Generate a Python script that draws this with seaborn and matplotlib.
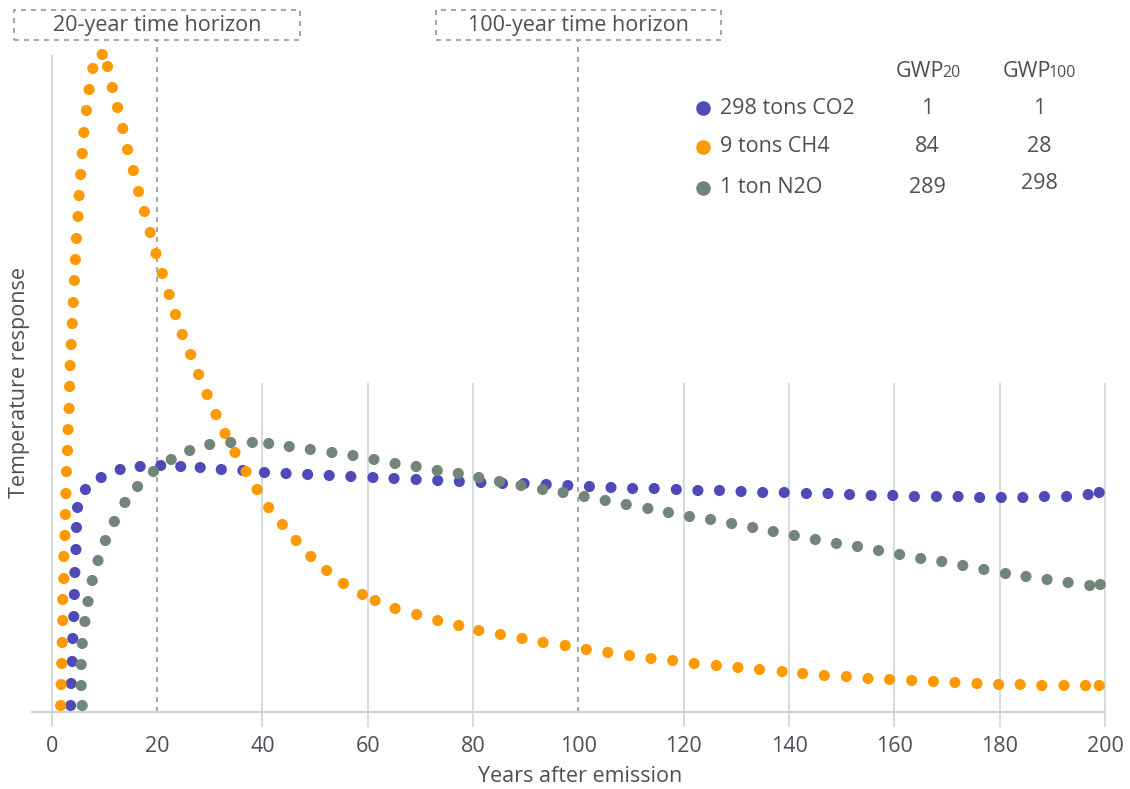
import numpy as np
import pandas as pd
import matplotlib.pyplot as plt
import seaborn as sns
from matplotlib.lines import Line2D
from matplotlib.patches import Rectangle

# temperature response after a pulse emission (arbitrary units)
co2_years = [3.6, 3.7, 3.9, 4.0, 4.2, 4.3, 4.4, 4.6, 4.7, 4.9, 6.4, 9.4, 13.0, 16.8, 20.7,
             24.5, 28.2, 32.2, 36.3, 40.4, 44.5, 48.6, 52.7, 56.8, 61.0, 65.0, 69.2, 73.3,
             77.4, 81.5, 85.6, 89.7, 93.9, 98.0, 102.1, 106.2, 110.3, 114.4, 118.6, 122.7,
             126.8, 130.9, 135.0, 139.1, 143.3, 147.4, 151.5, 155.6, 159.7, 163.8, 168.0,
             172.1, 176.2, 180.3, 184.4, 188.5, 192.7, 196.8, 198.9]
co2_temp = [0.6, 2.8, 5.0, 7.3, 9.5, 11.7, 13.9, 16.2, 18.4, 20.4, 22.2, 23.4, 24.2, 24.5, 24.6,
            24.5, 24.4, 24.2, 24.1, 23.9, 23.8, 23.7, 23.6, 23.5, 23.4, 23.3, 23.2, 23.1,
            23.0, 22.9, 22.8, 22.8, 22.7, 22.6, 22.5, 22.4, 22.3, 22.3, 22.2, 22.1,
            22.1, 22.0, 21.9, 21.9, 21.8, 21.8, 21.7, 21.6, 21.6, 21.5, 21.5,
            21.5, 21.4, 21.4, 21.4, 21.5, 21.5, 21.7, 21.9]

ch4_years = [1.7, 1.8, 1.9, 2.0, 2.1, 2.1, 2.3, 2.3, 2.5, 2.6, 2.7, 2.8, 3.0, 3.1, 3.3, 3.4,
             3.5, 3.7, 3.9, 4.1, 4.3, 4.5, 4.7, 5.0, 5.2, 5.5, 5.8, 6.1, 6.6, 7.1, 7.8, 9.6,
             10.6, 11.5, 12.5, 13.5, 14.4, 15.5, 16.5, 17.6, 18.7, 19.8, 21.0, 22.3, 23.5,
             24.8, 26.4, 27.9, 29.5, 31.2, 32.9, 34.8, 36.9, 39.0, 41.2, 43.8, 46.4, 49.2,
             52.2, 55.4, 59.0, 61.4, 65.2, 69.3, 73.3, 77.3, 81.1, 85.2, 89.3, 93.3, 97.5,
             101.5, 105.6, 109.7, 113.8, 117.9, 122.0, 126.2, 130.3, 134.4, 138.7, 142.6,
             146.7, 150.9, 155.0, 159.1, 163.3, 167.4, 171.5, 175.7, 179.8, 183.9, 188.0,
             192.2, 196.3, 198.9]
ch4_temp = [0.6, 2.7, 4.8, 6.9, 9.1, 11.2, 13.3, 15.5, 17.6, 19.7, 21.8, 24.0, 26.1, 28.2, 30.3,
            32.5, 34.6, 36.7, 38.8, 40.9, 43.1, 45.2, 47.3, 49.5, 51.6, 53.7, 55.8, 57.9,
            60.1, 62.2, 64.3, 65.7, 64.5, 62.4, 60.4, 58.3, 56.2, 54.1, 52.0, 50.0, 47.9,
            45.8, 43.8, 41.7, 39.7, 37.7, 35.7, 33.7, 31.7, 29.7, 27.8, 25.9, 24.0, 22.2,
            20.4, 18.7, 17.1, 15.5, 14.1, 12.8, 11.7, 11.1, 10.3, 9.7, 9.1, 8.6, 8.1, 7.7,
            7.3, 6.9, 6.6, 6.2, 5.9, 5.6, 5.3, 5.1, 4.8, 4.6, 4.4, 4.2, 4.0, 3.8, 3.6, 3.5,
            3.3, 3.2, 3.1, 3.0, 2.9, 2.8, 2.7, 2.7, 2.6, 2.6, 2.6, 2.6]

n2o_years = [5.8, 5.6, 5.6, 5.8, 6.3, 6.9, 7.7, 8.8, 10.2, 11.9, 13.9, 16.3, 19.3, 22.7, 26.2,
             30.0, 34.0, 38.1, 41.2, 45.1, 49.1, 53.2, 57.2, 61.2, 65.2, 69.2, 73.2, 77.2,
             81.1, 85.0, 89.1, 93.2, 97.1, 101.1, 105.1, 109.1, 113.2, 117.1, 121.1, 125.1,
             129.1, 133.1, 137.0, 141.0, 145.0, 149.0, 153.0, 157.0, 161.0, 165.0, 169.0,
             173.0, 177.0, 181.1, 185.0, 189.0, 193.0, 197.1, 199.1]
n2o_temp = [0.6, 2.6, 4.7, 6.8, 9.0, 11.0, 13.1, 15.1, 17.1, 19.0, 20.9, 22.5, 24.0, 25.2, 26.1,
            26.7, 26.9, 26.9, 26.8, 26.5, 26.2, 25.9, 25.6, 25.2, 24.8, 24.5, 24.1, 23.8,
            23.4, 23.0, 22.6, 22.2, 21.9, 21.5, 21.1, 20.7, 20.3, 19.9, 19.5, 19.2,
            18.8, 18.4, 18.0, 17.6, 17.2, 16.8, 16.5, 16.1, 15.7, 15.3, 15.0,
            14.6, 14.2, 13.8, 13.5, 13.2, 12.9, 12.6, 12.7]

gas_labels = ["298 tons CO2", "9 tons CH4", "1 ton N2O"]
gwp20 = ["1", "84", "289"]
gwp100 = ["1", "28", "298"]
horizons = [20, 100]

colors = {"298 tons CO2": "#4f4ab8", "9 tons CH4": "#ff9900", "1 ton N2O": "#718679"}
text_col = "#4b5057"
grid_col = "#cdd5d4"
dash_col = "#8f9c9a"
fs = 15.5

df = pd.concat([
    pd.DataFrame({"year": co2_years, "temp": co2_temp, "gas": gas_labels[0]}),
    pd.DataFrame({"year": ch4_years, "temp": ch4_temp, "gas": gas_labels[1]}),
    pd.DataFrame({"year": n2o_years, "temp": n2o_temp, "gas": gas_labels[2]}),
], ignore_index=True)

sns.set_style("white")
plt.rcParams["font.family"] = ["Open Sans", "DejaVu Sans"]

W, H = 1130, 789
fig = plt.figure(figsize=(W / 100, H / 100), dpi=100)
ax = fig.add_axes([32 / W, 77.5 / H, 1073 / W, 671.5 / H])
ax.set_xlim(-3.74, 200)
ax.set_ylim(0, 67.15)

# grid: full line at 0, shorter ones in the lower part, all running a bit below the axis
ax.vlines([0], -1.55, 65.65, color=grid_col, lw=1.2, zorder=1, clip_on=False)
ax.vlines([40, 60, 80, 120, 140, 160, 180, 200], -1.55, 32.85, color=grid_col, lw=1.2,
          zorder=1, clip_on=False)

# time horizon markers with their dashed boxes
for yr in horizons:
    ax.vlines(yr, 0, 67.15, color=dash_col, lw=1.2, linestyles=(0, (3, 3)), zorder=1,
              clip_on=False)
    ax.add_patch(Rectangle((yr - 27.07, 67.15), 54.14, 3.0, fill=False, ec=dash_col, lw=1.2,
                           ls=(0, (3, 3)), clip_on=False))
    ax.text(yr, 68.6, f"{yr}-year time horizon", ha="center", va="center", fontsize=fs,
            color=text_col, clip_on=False)

sns.scatterplot(data=df, x="year", y="temp", hue="gas", palette=colors, s=64, linewidth=0,
                legend=False, ax=ax, zorder=3)
for c in ax.collections:
    c.set_clip_on(False)

sns.despine(ax=ax, left=True)
ax.spines["bottom"].set_color(grid_col)
ax.spines["bottom"].set_linewidth(1.5)
ax.set_yticks([])
ax.set_xticks(range(0, 201, 20))
ax.tick_params(axis="x", length=0, pad=18, labelsize=fs, labelcolor=text_col)
ax.set_xlabel("Years after emission", fontsize=fs, color=text_col, va="center")
ax.xaxis.set_label_coords((580 - 32) / 1073, (711.5 - 776) / 671.5)
ax.set_ylabel("Temperature response", fontsize=fs, color=text_col, va="center")
ax.yaxis.set_label_coords((20 - 32) / 1073, (711.5 - 383) / 671.5)

# legend table with GWP values
def fx(px):
    return px / W

def fy(py):
    return 1 - py / H

fig.text(fx(944), fy(77.3), "GWP", ha="right", va="baseline", fontsize=fs, color=text_col)
fig.text(fx(942), fy(77.3), "20", ha="left", va="baseline", fontsize=11.5, color=text_col)
fig.text(fx(1051), fy(77.3), "GWP", ha="right", va="baseline", fontsize=fs, color=text_col)
fig.text(fx(1049), fy(77.3), "100", ha="left", va="baseline", fontsize=11.5, color=text_col)

row_y = [108.3, 146.5, 187.5]
for lab, g20, g100, ry in zip(gas_labels, gwp20, gwp100, row_y):
    fig.add_artist(Line2D([fx(703.3)], [fy(ry)], marker="o", markersize=10.5, ls="none",
                          color=colors[lab], markeredgewidth=0))
    fig.text(fx(720), fy(ry), lab, ha="left", va="center", fontsize=fs, color=text_col)
    fig.text(fx(927), fy(ry), g20, ha="center", va="center", fontsize=fs, color=text_col)
    fig.text(fx(1039.5), fy(ry - 4 if g100 == "298" else ry), g100, ha="center", va="center",
             fontsize=fs, color=text_col)

plt.savefig("out.png", dpi=100)
